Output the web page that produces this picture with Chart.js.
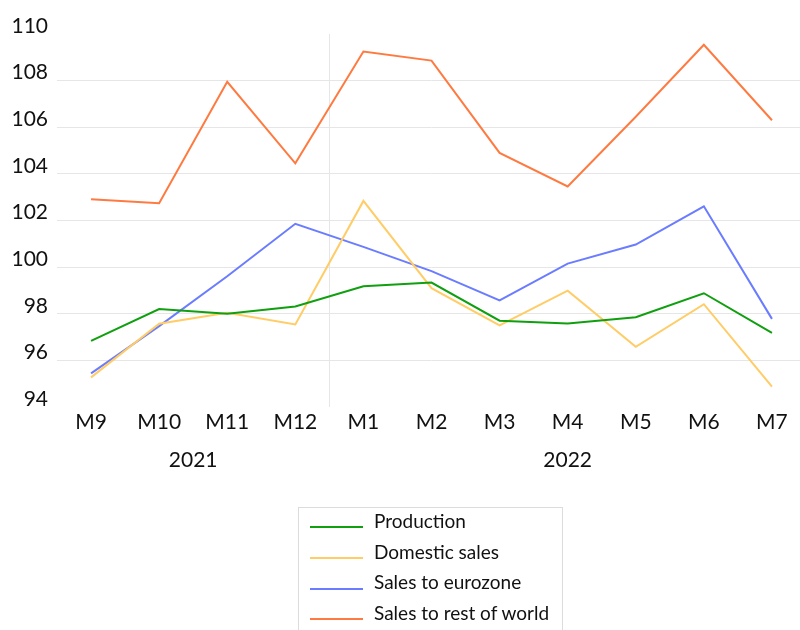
<!DOCTYPE html>
<html>
<head>
<meta charset="utf-8">
<script src="https://cdn.jsdelivr.net/npm/chart.js@4"></script>
<style>
    body { margin: 0; overflow: hidden; background: #fff; }
    #wrap { position: relative; width: 806px; height: 630px; }
    #legend {
        position: absolute; left: 298px; top: 507px; width: 265px; height: 140px;
        border: 1px solid #dcdcdc; box-sizing: border-box; padding-top: 4px;
        font-family: Lato, sans-serif; font-size: 19px; color: #111;
    }
    .row { height: 30.7px; line-height: 30.7px; display: flex; align-items: center; }
    .row .txt { position: relative; top: -6px; }
    .swatch { width: 53px; height: 2px; margin-left: 11px; margin-right: 11px; }
</style>
</head>
<body>
<div id="wrap">
    <canvas id="chart" width="806" height="630"></canvas>
    <div id="legend"></div>
</div>
<script>
const months = ['M9', 'M10', 'M11', 'M12', 'M1', 'M2', 'M3', 'M4', 'M5', 'M6', 'M7'];
const years = ['2021', '2022'];
const yearStart = [0, 4]; // index in months where each year starts

const production = [96.84, 98.2, 98.0, 98.31, 99.18, 99.34, 97.7, 97.58, 97.85, 98.88, 97.18];
const domesticSales = [95.27, 97.57, 98.04, 97.54, 102.84, 99.1, 97.5, 98.99, 96.58, 98.41, 94.87];
const salesEurozone = [95.44, 97.47, 99.61, 101.86, 100.87, 99.83, 98.57, 100.15, 100.97, 102.61, 97.78];
const salesRestOfWorld = [102.91, 102.74, 107.95, 104.45, 109.25, 108.86, 104.9, 103.46, 106.45, 109.54, 106.3];

const font = 'Lato, sans-serif';
const gridColor = '#e6e6e6';

function line(label, data, color) {
    return {
        label: label,
        data: data,
        borderColor: color,
        backgroundColor: color,
        borderWidth: 2,
        pointRadius: 0,
        tension: 0,
        fill: false
    };
}

// year labels under the month ticks
const yearLabels = {
    id: 'yearLabels',
    afterDraw(chart) {
        const x = chart.scales.x;
        const ctx = chart.ctx;
        const half = (x.getPixelForTick(1) - x.getPixelForTick(0)) / 2;
        ctx.save();
        ctx.font = '21px ' + font;
        ctx.fillStyle = '#111';
        ctx.textAlign = 'center';
        ctx.textBaseline = 'middle';
        years.forEach((year, i) => {
            const first = yearStart[i];
            const last = i + 1 < yearStart.length ? yearStart[i + 1] - 1 : months.length - 1;
            const left = x.getPixelForTick(first) - half;
            const right = x.getPixelForTick(last) + half;
            ctx.fillText(year, (left + right) / 2, 460);
        });
        ctx.restore();
    }
};

const chart = new Chart(document.getElementById('chart'), {
    type: 'line',
    data: {
        labels: months,
        datasets: [
            line('Production', production, '#0f9f0f'),
            line('Domestic sales', domesticSales, '#ffcc66'),
            line('Sales to eurozone', salesEurozone, '#6a7cff'),
            line('Sales to rest of world', salesRestOfWorld, '#ff7a40')
        ]
    },
    options: {
        responsive: false,
        animation: false,
        layout: { padding: { top: 34, left: 0, right: 0, bottom: 0 } },
        plugins: {
            legend: { display: false },
            tooltip: { enabled: false }
        },
        scales: {
            x: {
                offset: true,
                afterFit: scale => { scale.height = 223; },
                border: { display: false },
                grid: {
                    offset: true,
                    drawTicks: false,
                    color: c => (c.index === yearStart[1] ? gridColor : 'rgba(0,0,0,0)')
                },
                ticks: {
                    font: { family: font, size: 21 },
                    color: '#111',
                    padding: 3,
                    maxRotation: 0,
                    autoSkip: false
                }
            },
            y: {
                min: 94,
                max: 110,
                afterFit: scale => { scale.width = 57; },
                border: { display: false },
                grid: {
                    drawTicks: false,
                    color: c => (c.tick.value === 94 || c.tick.value === 110 ? 'rgba(0,0,0,0)' : gridColor)
                },
                ticks: {
                    stepSize: 2,
                    font: { family: font, size: 21 },
                    color: '#111',
                    padding: 9,
                    labelOffset: -8
                }
            }
        }
    },
    plugins: [yearLabels]
});

// legend boxed, one entry per row
const legend = document.getElementById('legend');
chart.data.datasets.forEach(ds => {
    const row = document.createElement('div');
    row.className = 'row';
    row.innerHTML = '<span class="swatch" style="background:' + ds.borderColor + '"></span><span class="txt">' + ds.label + '</span>';
    legend.appendChild(row);
});
</script>
</body>
</html>
